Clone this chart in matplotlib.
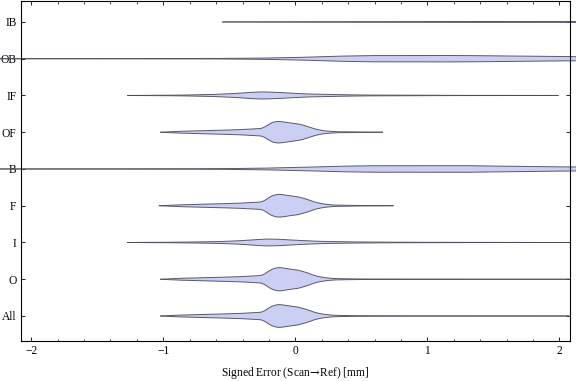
import numpy as np
import matplotlib
matplotlib.use("Agg")
import matplotlib.pyplot as plt
from matplotlib.ticker import MultipleLocator

plt.rcParams['font.family'] = ['Liberation Serif', 'DejaVu Serif']
plt.rcParams['font.size'] = 8.3
plt.rcParams['mathtext.fontset'] = 'dejavuserif'

# ---- data: violin profiles (x knots, half-width in category units) ----
categories = ["All", "O", "I", "F", "B", "OF", "IF", "OB", "IB"]

all_x = [-1.02, -0.9, -0.72, -0.45, -0.253, -0.215, -0.18, -0.125, -0.05, 0.02, 0.09, 0.15, 0.215, 0.29, 0.45, 0.8, 2.07]
all_w = [0.0, 0.022, 0.041, 0.065, 0.100, 0.182, 0.272, 0.318, 0.275, 0.245, 0.174, 0.093, 0.046, 0.019, 0.008, 0.003, 0.0]

o_x = [-1.02, -0.9, -0.72, -0.45, -0.253, -0.215, -0.18, -0.125, -0.05, 0.02, 0.09, 0.15, 0.215, 0.29, 0.45, 0.8, 2.07]
o_w = [0.0, 0.022, 0.041, 0.065, 0.100, 0.185, 0.275, 0.325, 0.28, 0.25, 0.176, 0.094, 0.046, 0.019, 0.008, 0.003, 0.0]

i_x = [-1.27, -0.9, -0.6, -0.45, -0.34, -0.27, -0.21, -0.12, -0.02, 0.1, 0.2, 0.35, 0.6, 1.0, 2.07]
i_w = [0.0, 0.008, 0.022, 0.041, 0.068, 0.087, 0.095, 0.087, 0.065, 0.044, 0.030, 0.019, 0.010, 0.004, 0.0]

f_x = [-1.03, -0.9, -0.72, -0.45, -0.253, -0.215, -0.18, -0.125, -0.05, 0.02, 0.09, 0.15, 0.215, 0.29, 0.45, 0.74]
f_w = [0.0, 0.022, 0.041, 0.065, 0.100, 0.182, 0.272, 0.318, 0.275, 0.245, 0.174, 0.093, 0.046, 0.019, 0.008, 0.0]

b_x = [-3.0, -1.0, -0.6, -0.3, 0.0, 0.3, 0.55, 0.9, 1.3, 1.6, 2.0, 2.3, 2.6, 3.0]
b_w = [0.0, 0.003, 0.008, 0.018, 0.040, 0.072, 0.088, 0.090, 0.090, 0.075, 0.058, 0.050, 0.025, 0.0]

of_x = [-1.02, -0.9, -0.72, -0.45, -0.253, -0.215, -0.18, -0.13, -0.05, 0.035, 0.09, 0.135, 0.21, 0.3, 0.5, 0.66]
of_w = [0.0, 0.022, 0.041, 0.065, 0.100, 0.180, 0.265, 0.300, 0.26, 0.218, 0.160, 0.100, 0.041, 0.015, 0.005, 0.0]

if_x = [-1.27, -0.9, -0.64, -0.47, -0.36, -0.265, -0.17, -0.015, 0.1, 0.29, 0.5, 0.9, 1.4, 1.99]
if_w = [0.0, 0.008, 0.025, 0.050, 0.080, 0.098, 0.090, 0.058, 0.040, 0.024, 0.012, 0.005, 0.002, 0.0]

ob_x = [-3.0, -1.0, -0.6, -0.3, 0.0, 0.29, 0.55, 0.9, 1.26, 1.6, 2.0, 2.3, 2.6, 3.0]
ob_w = [0.0, 0.003, 0.006, 0.014, 0.032, 0.066, 0.085, 0.088, 0.087, 0.074, 0.060, 0.050, 0.025, 0.0]

ib_x = [-0.55, 0.0, 0.5, 1.0, 2.0, 3.0]
ib_w = [0.0, 0.004, 0.008, 0.012, 0.012, 0.006]

profiles = {
    "All": (all_x, all_w), "O": (o_x, o_w), "I": (i_x, i_w), "F": (f_x, f_w),
    "B": (b_x, b_w), "OF": (of_x, of_w), "IF": (if_x, if_w), "OB": (ob_x, ob_w),
    "IB": (ib_x, ib_w),
}

fill_color = "#cbcff4"
edge_color = "#4a4a58"

fig = plt.figure(figsize=(5.76, 3.81), dpi=100)
ax = fig.add_axes([20.7 / 576, 40.3 / 381, (570 - 20.7) / 576, (380 - 40.3) / 381])

step = 0.002
k = 25
kern = np.ones(k) / k
for pos, cat in enumerate(categories, start=1):
    xs, ws = profiles[cat]
    grid = np.arange(xs[0], xs[-1] + step / 2, step)
    w = np.interp(grid, xs, ws)
    wp = np.pad(w, k // 2, mode="edge")
    w = np.convolve(wp, kern, mode="valid")
    ax.fill_between(grid, pos - w, pos + w, facecolor=fill_color,
                    edgecolor="none", clip_on=False, zorder=2)
    ax.plot(grid, pos + w, color=edge_color, lw=0.7, clip_on=False, zorder=3, alpha=0.9)
    ax.plot(grid, pos - w, color=edge_color, lw=0.7, clip_on=False, zorder=3, alpha=0.9)

ax.set_xlim(-2.08, 2.08)
ax.set_ylim(0.328, 9.57)
ax.set_yticks(range(1, len(categories) + 1))
ax.set_yticklabels(categories)
ax.xaxis.set_minor_locator(MultipleLocator(0.2))
ax.set_xticks([-2, -1, 0, 1, 2])
ax.set_xticklabels(["\u22122", "\u22121", "0", "1", "2"])

ax.tick_params(axis="x", which="major", direction="in", length=3.2, width=0.6,
               top=True, bottom=True, pad=3, color="black")
ax.tick_params(axis="x", which="minor", direction="in", length=1.8, width=0.5,
               top=True, bottom=True)
ax.tick_params(axis="y", which="major", direction="in", length=3.0, width=0.6,
               left=True, right=True, pad=3)
for s in ax.spines.values():
    s.set_linewidth(0.8)
    s.set_zorder(4)

ax.set_xlabel("Signed Error (Scan$\\!\\rightarrow\\!$Ref) [mm]", labelpad=6)

fig.savefig("out.png", dpi=100)
